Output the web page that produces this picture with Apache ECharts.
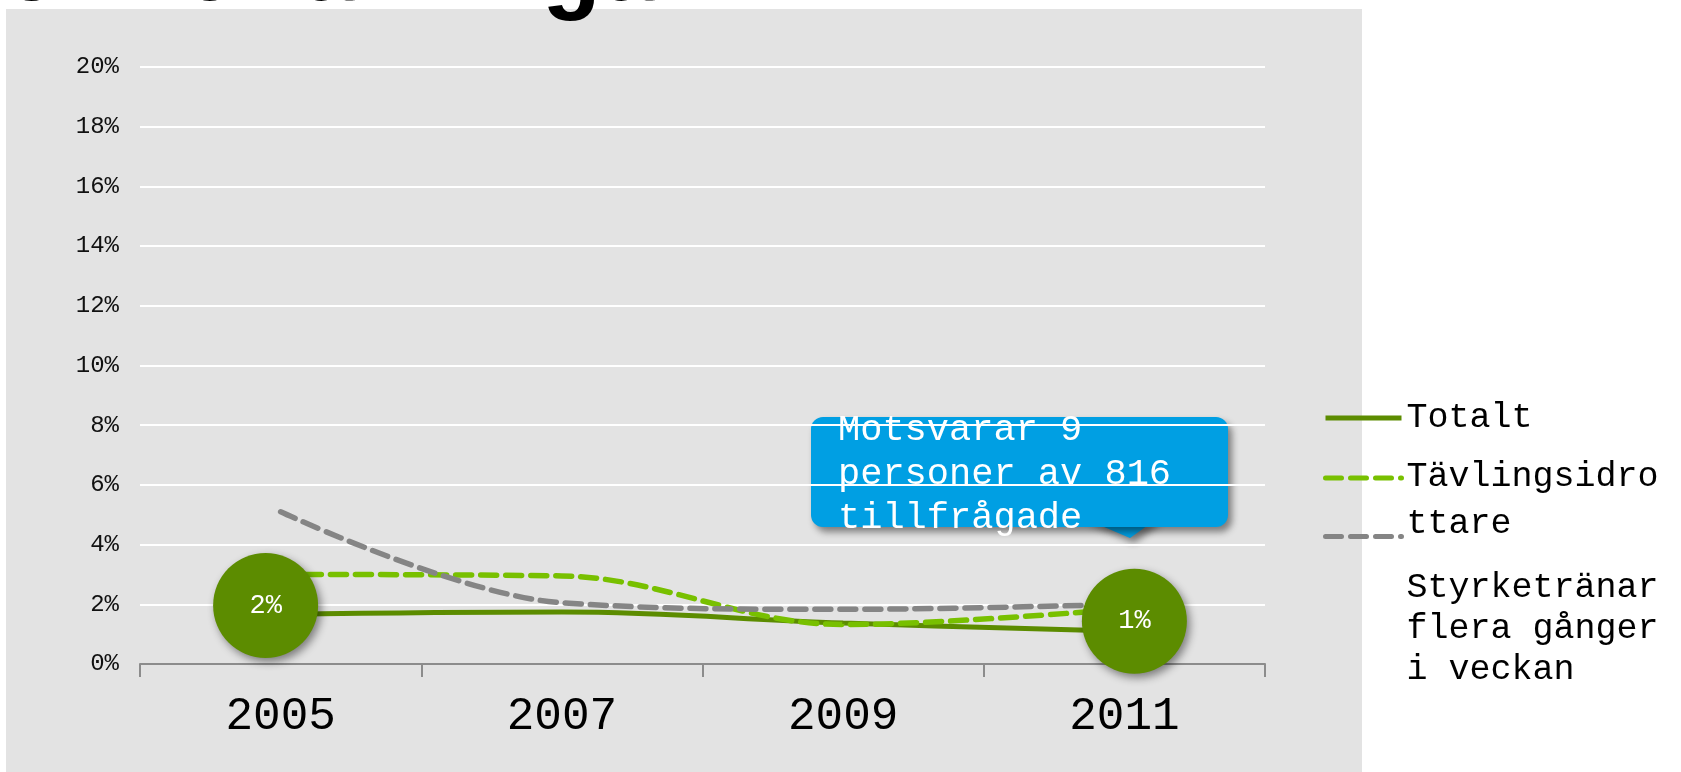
<!DOCTYPE html>
<html>
<head>
<meta charset="utf-8">
<script src="https://cdn.jsdelivr.net/npm/echarts@6/dist/echarts.min.js"></script>
<style>
    html, body { margin: 0; padding: 0; background: #ffffff; }
    #chart { width: 1681px; height: 772px; }
</style>
</head>
<body>
<div id="chart"></div>
<script>
    // data (percent)
    var years = ['2005', '2007', '2009', '2011'];
    var totalt = [1.66, 1.74, 1.37, 1.1];
    var tavling = [3.0, 2.95, 1.32, 1.85];
    var styrke = [5.1, 2.05, 1.83, 2.0];
    var seriesNames = ['Totalt', 'Tävlingsidrottare', 'Styrketränar flera gånger i veckan'];
    var yTicks = { min: 0, max: 20, interval: 2 };
    var calloutText = 'Motsvarar 9\npersoner av 816\ntillfrågade';
    var titleText = '16-20 åringar';

    var FONT = '"Liberation Mono", "DejaVu Sans Mono", monospace';
    var DARK_GREEN = '#5c8c00';
    var LIGHT_GREEN = '#78c000';
    var GREY = '#858585';
    var BLUE = '#009fe3';

    // excel-like wrap: 12 chars per line, long words get cut
    function wrap(name) {
        var width = 12, lines = [], cur = '';
        name.split(' ').forEach(function (w) {
            var cand = cur ? cur + ' ' + w : w;
            if (cand.length <= width) { cur = cand; return; }
            if (cur) lines.push(cur);
            while (w.length > width) { lines.push(w.slice(0, width)); w = w.slice(width); }
            cur = w;
        });
        if (cur) lines.push(cur);
        return lines;
    }

    // bubble labels on first/last Totalt point
    var bubbleOffsets = { 0: [-15, -9], 3: [10, -10] };
    var totaltData = totalt.map(function (v, i) {
        var off = bubbleOffsets[i];
        return {
            value: v,
            label: { show: !!off, offset: off || [0, 0] }
        };
    });

    var myChart = echarts.init(document.getElementById('chart'));

    // one legend per series so each text block can sit where excel put it
    function legendFor(name, top, lineHeight, spacer) {
        return {
            data: [name],
            orient: 'vertical',
            left: 1323,
            top: top,
            padding: 0,
            itemWidth: 76,
            itemHeight: 6,
            itemStyle: { opacity: 0 },
            lineStyle: { width: 5 },
            selectedMode: false,
            formatter: function (n) {
                var body = wrap(n).map(function (l) { return '{t|' + l + '}'; }).join('\n');
                return spacer ? '{s|}\n' + body : body;
            },
            textStyle: {
                color: '#000',
                rich: {
                    s: { lineHeight: spacer || 1, height: spacer || 1 },
                    t: { fontFamily: FONT, fontSize: 35, color: '#000', lineHeight: lineHeight }
                }
            }
        };
    }

    var option = {
        animation: false,
        backgroundColor: '#ffffff',
        graphic: [
            {
                type: 'rect', z: -10, silent: true,
                shape: { x: 6, y: 9, width: 1356, height: 780 },
                style: { fill: '#e3e3e3' }
            },
            {
                type: 'text', z: -5, silent: true,
                x: -60, y: -25,
                style: {
                    text: titleText, fill: '#000',
                    font: 'bold 100px ' + FONT,
                    verticalAlign: 'middle'
                }
            },
            {
                type: 'group', z: 100, silent: true,
                children: [
                    {
                        type: 'polygon',
                        shape: { points: [[1083, 518], [1130, 538], [1158, 518]] },
                        style: { fill: BLUE, shadowBlur: 7, shadowOffsetX: 4, shadowOffsetY: 5, shadowColor: 'rgba(0,0,0,0.45)' }
                    },
                    {
                        type: 'rect',
                        shape: { x: 811, y: 417, width: 417, height: 110, r: 12 },
                        style: { fill: BLUE, shadowBlur: 7, shadowOffsetX: 4, shadowOffsetY: 5, shadowColor: 'rgba(0,0,0,0.45)' }
                    },
                    {
                        type: 'text', x: 838, y: 408,
                        style: {
                            text: calloutText, fill: '#ffffff',
                            font: '37px ' + FONT, lineHeight: 44,
                            verticalAlign: 'top'
                        }
                    }
                ]
            }
        ],
        legend: [
            legendFor(seriesNames[0], 400.5, 37, 0),
            legendFor(seriesNames[1], 408.5, 47, 45),
            legendFor(seriesNames[2], 383, 41, 184)
        ],
        grid: {
            left: 140,
            right: 416,
            top: 67,
            bottom: 108,
            containLabel: false
        },
        xAxis: {
            type: 'category',
            data: years,
            boundaryGap: true,
            axisLine: { lineStyle: { color: '#8c8c8c', width: 2 } },
            axisTick: { show: true, length: 13, lineStyle: { color: '#8c8c8c', width: 2 } },
            axisLabel: {
                margin: 30,
                fontFamily: FONT,
                fontSize: 46,
                color: '#000'
            },
            splitLine: { show: false }
        },
        yAxis: {
            type: 'value',
            min: yTicks.min,
            max: yTicks.max,
            interval: yTicks.interval,
            axisLine: { show: false },
            axisTick: { show: false },
            axisLabel: {
                formatter: '{value}%',
                margin: 21,
                fontFamily: FONT,
                fontSize: 24,
                color: '#111'
            },
            splitLine: { lineStyle: { color: '#ffffff', width: 2 } }
        },
        series: [
            {
                name: seriesNames[0],
                type: 'line',
                z: 3,
                data: totaltData,
                smooth: 0.4,
                symbol: 'circle',
                symbolSize: 2,
                itemStyle: { color: DARK_GREEN },
                lineStyle: { color: DARK_GREEN, width: 5 },
                label: {
                    show: false,
                    position: 'inside',
                    formatter: function (p) { return Math.round(p.value) + '%'; },
                    width: 105,
                    height: 105,
                    lineHeight: 105,
                    align: 'center',
                    verticalAlign: 'middle',
                    backgroundColor: DARK_GREEN,
                    borderRadius: 53,
                    color: '#ffffff',
                    fontFamily: FONT,
                    fontSize: 27,
                    shadowColor: 'rgba(0,0,0,0.45)',
                    shadowBlur: 8,
                    shadowOffsetX: 3,
                    shadowOffsetY: 4
                },
                emphasis: { disabled: true }
            },
            {
                name: seriesNames[1],
                type: 'line',
                data: tavling,
                smooth: 0.35,
                showSymbol: false,
                itemStyle: { color: LIGHT_GREEN },
                lineStyle: { color: LIGHT_GREEN, width: 5.5, type: [16, 9], cap: 'round' },
                emphasis: { disabled: true }
            },
            {
                name: seriesNames[2],
                type: 'line',
                data: styrke,
                smooth: 0.35,
                showSymbol: false,
                itemStyle: { color: GREY },
                lineStyle: { color: GREY, width: 5.5, type: [16, 9], cap: 'round' },
                emphasis: { disabled: true }
            }
        ]
    };

    myChart.setOption(option, true);
    window.addEventListener('resize', function () {
        myChart.resize();
    });
</script>
</body>
</html>
